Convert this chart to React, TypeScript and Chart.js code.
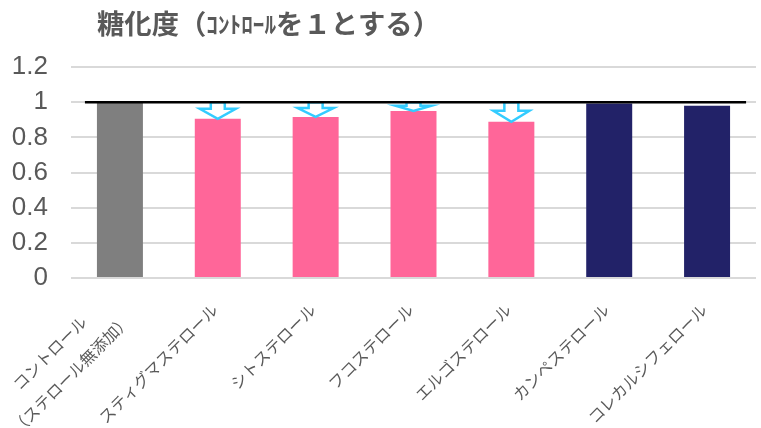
import React, { useEffect, useRef } from "react";
import { Chart, registerables } from "chart.js";

Chart.register(...registerables);

const categories: string[][] = [
  ["コントロール", "（ステロール無添加）"],
  ["スティグマステロール"],
  ["シトステロール"],
  ["フコステロール"],
  ["エルゴステロール"],
  ["カンペステロール"],
  ["コレカルシフェロール"],
];
const values: number[] = [1.0, 0.905, 0.916, 0.95, 0.888, 0.993, 0.979];
const barColors: string[] = ["#7F7F7F", "#FF6699", "#FF6699", "#FF6699", "#FF6699", "#222268", "#222268"];
const arrowIndices: number[] = [1, 2, 3, 4];
const referenceValue = 1;
const yMin = 0;
const yMax = 1.2;
const yStep = 0.2;
const titleParts: { text: string; size: number }[] = [
  { text: "糖化度（", size: 27 },
  { text: "ｺﾝﾄﾛｰﾙ", size: 23 },
  { text: "を１とする）", size: 27 },
];

const TEXT_COLOR = "#595959";
const JP_FONT = "'Noto Sans CJK JP', 'Noto Sans', sans-serif";

const overlayPlugin = {
  id: "overlay",
  afterDatasetsDraw(chart: any) {
    const { ctx, scales } = chart;
    const x = scales.x;
    const y = scales.y;
    const y1 = y.getPixelForValue(referenceValue);
    ctx.save();
    arrowIndices.forEach((i) => {
      const cx = x.getPixelForValue(i);
      const yt = y.getPixelForValue(values[i]);
      const len = yt - y1;
      const hh = Math.min(11, len * 0.6);
      const sw = 7;
      const hw = 18;
      ctx.beginPath();
      ctx.moveTo(cx - sw, y1);
      ctx.lineTo(cx - sw, yt - hh);
      ctx.lineTo(cx - hw, yt - hh);
      ctx.lineTo(cx, yt);
      ctx.lineTo(cx + hw, yt - hh);
      ctx.lineTo(cx + sw, yt - hh);
      ctx.lineTo(cx + sw, y1);
      ctx.closePath();
      ctx.fillStyle = "#FFFFFF";
      ctx.fill();
      ctx.lineWidth = 2.5;
      ctx.lineJoin = "miter";
      ctx.strokeStyle = "#33CCFF";
      ctx.stroke();
    });
    const xl = x.getPixelForValue(0) - 35;
    const xr = x.getPixelForValue(categories.length - 1) + 39;
    ctx.beginPath();
    ctx.moveTo(xl, y1);
    ctx.lineTo(xr, y1);
    ctx.lineWidth = 2.5;
    ctx.strokeStyle = "#000000";
    ctx.stroke();
    ctx.restore();
  },
  afterDraw(chart: any) {
    const { ctx, scales, chartArea } = chart;
    const x = scales.x;
    ctx.save();
    // title, stretched horizontally to the original's width
    ctx.fillStyle = TEXT_COLOR;
    ctx.textBaseline = "middle";
    ctx.textAlign = "left";
    let total = 0;
    titleParts.forEach((p) => {
      ctx.font = `bold ${p.size}px ${JP_FONT}`;
      total += ctx.measureText(p.text).width;
    });
    const sx = Math.max(1, 343 / total);
    ctx.save();
    ctx.translate(97, 24);
    ctx.scale(sx, 1);
    let tx = 0;
    titleParts.forEach((p) => {
      ctx.font = `bold ${p.size}px ${JP_FONT}`;
      ctx.fillText(p.text, tx, 0);
      tx += ctx.measureText(p.text).width;
    });
    ctx.restore();
    // rotated category labels
    const fs = 16;
    const lh = 30;
    ctx.font = `${fs}px ${JP_FONT}`;
    categories.forEach((lines, i) => {
      const cx = x.getPixelForValue(i);
      const widths = lines.map((l) => ctx.measureText(l).width);
      const W = Math.max(...widths);
      const n = lines.length;
      ctx.save();
      ctx.translate(cx - 3, chartArea.bottom + 29);
      ctx.rotate(-Math.PI / 4);
      ctx.textAlign = "center";
      ctx.textBaseline = "middle";
      lines.forEach((l, k) => {
        ctx.fillText(l, -W / 2, (k - (n - 1) / 2) * lh);
      });
      ctx.restore();
    });
    ctx.restore();
  },
};

export default function App() {
  const canvasRef = useRef<HTMLCanvasElement | null>(null);
  useEffect(() => {
    document.body.style.margin = "0";
    const canvas = canvasRef.current;
    if (!canvas) return;
    const chart = new Chart(canvas, {
      type: "bar",
      data: {
        labels: categories.map((c) => c.join(" ")),
        datasets: [
          {
            data: values,
            backgroundColor: barColors,
            borderWidth: 0,
            categoryPercentage: 1,
            barPercentage: 0.47,
          },
        ],
      },
      options: {
        animation: false,
        responsive: true,
        maintainAspectRatio: false,
        layout: { padding: { top: 67, left: 12, right: 5, bottom: 150 } },
        plugins: { legend: { display: false }, tooltip: { enabled: false }, title: { display: false } },
        scales: {
          x: {
            ticks: { display: false },
            grid: { display: false },
            border: { display: false },
            afterFit: (s: any) => {
              s.height = 0;
            },
          },
          y: {
            min: yMin,
            max: yMax,
            afterFit: (s: any) => {
              s.width = 59;
            },
            ticks: {
              stepSize: yStep,
              autoSkip: false,
              padding: 23,
              color: TEXT_COLOR,
              font: { size: 26, family: "'Liberation Sans', Arial, sans-serif" },
              callback: (v: any) => String(parseFloat(Number(v).toFixed(1))),
            },
            grid: { color: "#D9D9D9", lineWidth: 2, drawTicks: false },
            border: { display: false },
          },
        },
      },
      plugins: [overlayPlugin],
    });
    return () => chart.destroy();
  }, []);
  return (
    <div style={{ position: "relative", width: 761, height: 428 }}>
      <canvas ref={canvasRef} />
    </div>
  );
}
